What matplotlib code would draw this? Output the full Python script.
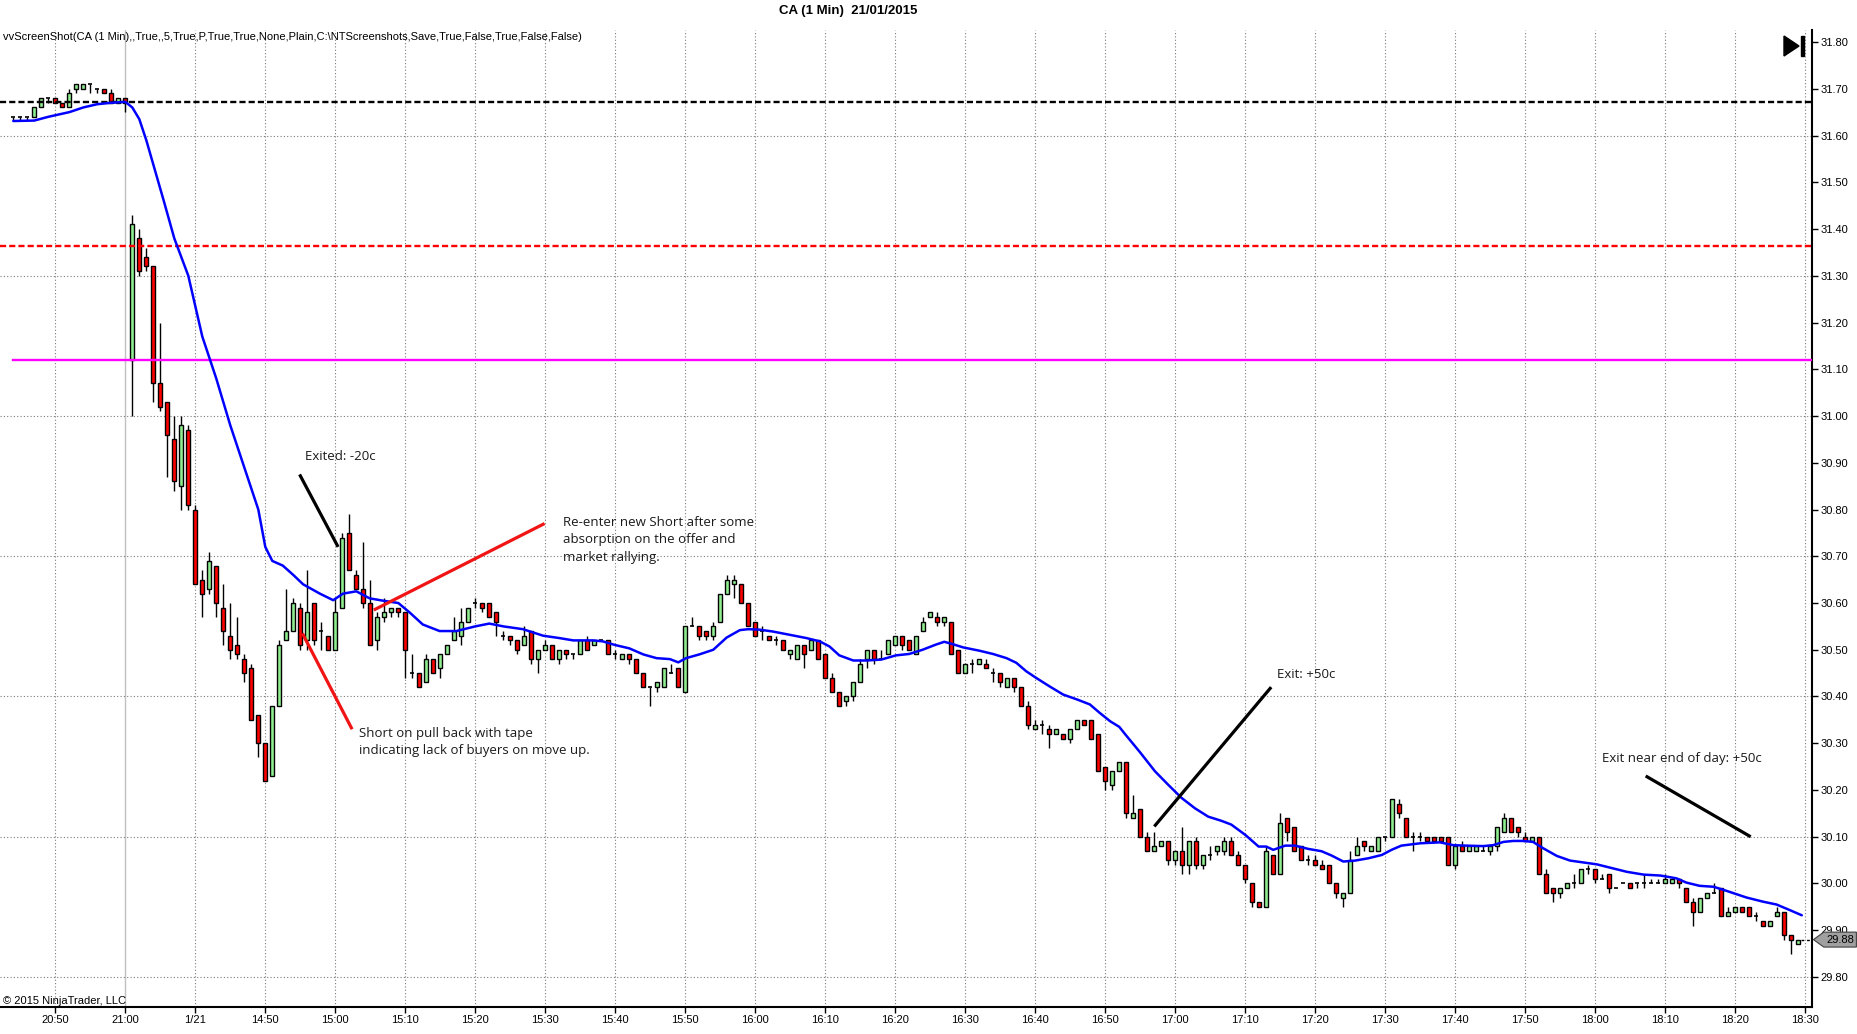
import matplotlib
matplotlib.use('Agg')
import matplotlib.pyplot as plt
from matplotlib.patches import Polygon
import numpy as np

# ---------------- data ----------------
# one-minute bars, index 0 = 20:44 (previous session) ... 16 = 21:00, 17 = 14:31 ... 255 = 18:29
opens = [
    31.64, 31.64, 31.64, 31.64, 31.66, 31.68, 31.68, 31.67, 31.66, 31.70, 31.70, 31.71, 31.70, 31.70, 31.69, 31.67, 31.68,
    31.12, 31.38, 31.34, 31.32, 31.07, 31.03, 30.95, 30.85, 30.97, 30.80, 30.65, 30.63, 30.68, 30.59, 30.53, 30.51, 30.48, 30.46, 30.36, 30.30,
    30.23, 30.38, 30.52, 30.54, 30.59, 30.52, 30.60, 30.54, 30.53, 30.50, 30.59, 30.75, 30.66, 30.63, 30.60, 30.52, 30.57, 30.58, 30.59, 30.58,
    30.45, 30.45, 30.43, 30.48, 30.46, 30.49, 30.52, 30.53, 30.56, 30.60, 30.60, 30.60, 30.58, 30.53, 30.53, 30.52, 30.51, 30.54, 30.48, 30.50,
    30.51, 30.48, 30.50, 30.49, 30.49, 30.52, 30.51, 30.52, 30.52, 30.49, 30.48, 30.49, 30.48, 30.45, 30.42, 30.42, 30.42, 30.45, 30.46, 30.41,
    30.55, 30.55, 30.54, 30.53, 30.56, 30.62, 30.64, 30.64, 30.60, 30.56, 30.54, 30.53, 30.52, 30.52, 30.49, 30.48, 30.51, 30.50, 30.52, 30.49,
    30.44, 30.41, 30.39, 30.40, 30.43, 30.48, 30.50, 30.48, 30.49, 30.51, 30.53, 30.52, 30.49, 30.54, 30.57, 30.57, 30.56, 30.56, 30.50, 30.45,
    30.47, 30.47, 30.47, 30.45, 30.45, 30.42, 30.44, 30.42, 30.38, 30.33, 30.34, 30.33, 30.32, 30.32, 30.31, 30.33, 30.35, 30.35, 30.32, 30.25,
    30.21, 30.24, 30.26, 30.14, 30.16, 30.10, 30.07, 30.08, 30.09, 30.05, 30.07, 30.04, 30.09, 30.04, 30.06, 30.07, 30.07, 30.09, 30.06, 30.04,
    30.00, 29.96, 29.95, 30.06, 30.02, 30.14, 30.12, 30.08, 30.05, 30.05, 30.04, 30.04, 30.00, 29.97, 29.98, 30.06, 30.09, 30.07, 30.07, 30.10,
    30.10, 30.17, 30.14, 30.10, 30.10, 30.10, 30.10, 30.10, 30.10, 30.04, 30.08, 30.07, 30.07, 30.07, 30.07, 30.08, 30.11, 30.14, 30.12, 30.10,
    30.09, 30.10, 30.02, 29.99, 29.98, 29.99, 30.00, 30.00, 30.03, 30.03, 30.01, 30.02, 29.99, 30.00, 30.00, 30.00, 30.00, 30.00, 30.00, 30.00,
    30.00, 30.01, 29.99, 29.96, 29.94, 29.97, 29.98, 29.99, 29.93, 29.94, 29.95, 29.95, 29.93, 29.92, 29.91, 29.93, 29.94, 29.89, 29.87,
]
highs = [
    31.64, 31.64, 31.64, 31.66, 31.68, 31.68, 31.68, 31.67, 31.70, 31.71, 31.71, 31.71, 31.70, 31.70, 31.70, 31.68, 31.68,
    31.43, 31.40, 31.36, 31.32, 31.20, 31.03, 31.00, 31.00, 30.98, 30.81, 30.67, 30.71, 30.68, 30.64, 30.60, 30.57, 30.49, 30.47, 30.36, 30.30,
    30.38, 30.52, 30.63, 30.61, 30.60, 30.67, 30.60, 30.56, 30.53, 30.61, 30.75, 30.79, 30.67, 30.73, 30.65, 30.58, 30.61, 30.59, 30.59, 30.58,
    30.49, 30.45, 30.49, 30.48, 30.49, 30.51, 30.57, 30.59, 30.59, 30.61, 30.60, 30.60, 30.58, 30.54, 30.53, 30.52, 30.55, 30.54, 30.50, 30.52,
    30.51, 30.50, 30.50, 30.49, 30.52, 30.53, 30.52, 30.52, 30.52, 30.50, 30.49, 30.49, 30.48, 30.45, 30.42, 30.43, 30.46, 30.47, 30.46, 30.55,
    30.57, 30.55, 30.54, 30.56, 30.62, 30.66, 30.66, 30.64, 30.60, 30.56, 30.55, 30.53, 30.53, 30.52, 30.50, 30.51, 30.51, 30.52, 30.52, 30.49,
    30.45, 30.41, 30.40, 30.43, 30.48, 30.50, 30.50, 30.50, 30.52, 30.53, 30.53, 30.52, 30.53, 30.57, 30.58, 30.58, 30.57, 30.56, 30.50, 30.47,
    30.48, 30.48, 30.48, 30.46, 30.45, 30.44, 30.44, 30.42, 30.39, 30.35, 30.35, 30.34, 30.33, 30.32, 30.33, 30.35, 30.35, 30.35, 30.32, 30.25,
    30.24, 30.26, 30.26, 30.19, 30.16, 30.11, 30.11, 30.09, 30.09, 30.07, 30.12, 30.09, 30.10, 30.06, 30.08, 30.08, 30.10, 30.10, 30.07, 30.04,
    30.00, 29.96, 30.08, 30.06, 30.15, 30.14, 30.12, 30.08, 30.06, 30.06, 30.05, 30.04, 30.00, 29.98, 30.07, 30.10, 30.09, 30.08, 30.10, 30.10,
    30.18, 30.18, 30.14, 30.11, 30.11, 30.10, 30.10, 30.10, 30.10, 30.08, 30.09, 30.08, 30.08, 30.08, 30.08, 30.12, 30.15, 30.14, 30.12, 30.11,
    30.10, 30.10, 30.03, 29.99, 29.99, 30.00, 30.02, 30.03, 30.04, 30.03, 30.02, 30.02, 29.99, 30.00, 30.00, 30.00, 30.02, 30.01, 30.01, 30.02,
    30.01, 30.01, 29.99, 29.97, 29.97, 29.98, 30.00, 29.99, 29.95, 29.95, 29.95, 29.95, 29.94, 29.92, 29.92, 29.95, 29.94, 29.89, 29.88,
]
lows = [
    31.63, 31.63, 31.63, 31.64, 31.66, 31.67, 31.67, 31.66, 31.66, 31.69, 31.70, 31.69, 31.69, 31.69, 31.67, 31.67, 31.65,
    31.00, 31.30, 31.31, 31.03, 31.01, 30.87, 30.84, 30.80, 30.80, 30.64, 30.57, 30.62, 30.57, 30.51, 30.48, 30.48, 30.43, 30.35, 30.27, 30.22,
    30.23, 30.38, 30.52, 30.54, 30.50, 30.50, 30.51, 30.50, 30.50, 30.50, 30.59, 30.67, 30.63, 30.59, 30.51, 30.50, 30.56, 30.57, 30.57, 30.44,
    30.44, 30.42, 30.43, 30.45, 30.44, 30.49, 30.52, 30.51, 30.56, 30.59, 30.58, 30.57, 30.53, 30.52, 30.51, 30.49, 30.51, 30.47, 30.45, 30.50,
    30.48, 30.47, 30.48, 30.48, 30.49, 30.50, 30.51, 30.52, 30.49, 30.48, 30.48, 30.47, 30.45, 30.42, 30.38, 30.41, 30.42, 30.45, 30.42, 30.41,
    30.55, 30.52, 30.52, 30.52, 30.56, 30.62, 30.61, 30.60, 30.55, 30.53, 30.52, 30.52, 30.51, 30.50, 30.48, 30.48, 30.46, 30.50, 30.48, 30.44,
    30.41, 30.38, 30.38, 30.39, 30.43, 30.46, 30.47, 30.48, 30.49, 30.51, 30.50, 30.50, 30.49, 30.54, 30.57, 30.55, 30.55, 30.49, 30.45, 30.45,
    30.45, 30.47, 30.46, 30.43, 30.42, 30.42, 30.41, 30.38, 30.33, 30.33, 30.32, 30.29, 30.32, 30.31, 30.30, 30.33, 30.34, 30.31, 30.24, 30.20,
    30.20, 30.24, 30.14, 30.14, 30.10, 30.07, 30.07, 30.08, 30.04, 30.04, 30.02, 30.02, 30.03, 30.03, 30.05, 30.06, 30.06, 30.06, 30.04, 30.00,
    29.95, 29.95, 29.95, 30.02, 30.02, 30.09, 30.07, 30.05, 30.04, 30.04, 30.03, 30.00, 29.97, 29.95, 29.98, 30.06, 30.07, 30.07, 30.07, 30.09,
    30.10, 30.14, 30.10, 30.07, 30.09, 30.09, 30.09, 30.09, 30.04, 30.03, 30.07, 30.07, 30.07, 30.07, 30.06, 30.07, 30.11, 30.11, 30.10, 30.09,
    30.09, 30.02, 29.98, 29.96, 29.97, 29.99, 29.99, 30.00, 30.02, 30.00, 30.01, 29.98, 29.99, 30.00, 29.99, 29.99, 29.99, 30.00, 30.00, 30.00,
    30.00, 29.99, 29.96, 29.91, 29.94, 29.97, 29.98, 29.93, 29.93, 29.94, 29.94, 29.93, 29.92, 29.91, 29.91, 29.93, 29.88, 29.85, 29.87,
]
closes = [
    31.64, 31.64, 31.64, 31.66, 31.68, 31.68, 31.67, 31.66, 31.69, 31.71, 31.71, 31.71, 31.70, 31.69, 31.67, 31.68, 31.67,
    31.41, 31.31, 31.32, 31.07, 31.02, 30.96, 30.86, 30.98, 30.81, 30.64, 30.62, 30.69, 30.60, 30.54, 30.50, 30.49, 30.45, 30.35, 30.30, 30.22,
    30.38, 30.51, 30.54, 30.60, 30.51, 30.58, 30.52, 30.54, 30.50, 30.58, 30.74, 30.67, 30.63, 30.60, 30.51, 30.57, 30.58, 30.59, 30.58, 30.50,
    30.45, 30.42, 30.48, 30.45, 30.49, 30.51, 30.54, 30.56, 30.59, 30.60, 30.59, 30.57, 30.56, 30.53, 30.52, 30.50, 30.53, 30.48, 30.50, 30.51,
    30.48, 30.50, 30.49, 30.49, 30.52, 30.50, 30.52, 30.52, 30.49, 30.49, 30.49, 30.48, 30.45, 30.42, 30.42, 30.43, 30.46, 30.45, 30.42, 30.55,
    30.55, 30.53, 30.53, 30.55, 30.62, 30.65, 30.65, 30.60, 30.55, 30.53, 30.54, 30.52, 30.52, 30.50, 30.50, 30.51, 30.49, 30.52, 30.48, 30.44,
    30.41, 30.38, 30.40, 30.43, 30.47, 30.50, 30.48, 30.48, 30.52, 30.53, 30.51, 30.50, 30.53, 30.56, 30.58, 30.56, 30.57, 30.49, 30.45, 30.47,
    30.47, 30.48, 30.46, 30.45, 30.43, 30.44, 30.42, 30.38, 30.34, 30.34, 30.34, 30.32, 30.33, 30.31, 30.33, 30.35, 30.34, 30.31, 30.24, 30.22,
    30.24, 30.26, 30.15, 30.15, 30.10, 30.07, 30.08, 30.09, 30.05, 30.07, 30.04, 30.09, 30.04, 30.06, 30.06, 30.08, 30.09, 30.06, 30.04, 30.01,
    29.96, 29.95, 30.07, 30.02, 30.13, 30.11, 30.07, 30.05, 30.05, 30.04, 30.03, 30.00, 29.98, 29.98, 30.05, 30.08, 30.08, 30.08, 30.10, 30.10,
    30.18, 30.15, 30.10, 30.10, 30.10, 30.09, 30.09, 30.09, 30.04, 30.08, 30.07, 30.08, 30.08, 30.07, 30.08, 30.12, 30.14, 30.11, 30.11, 30.09,
    30.10, 30.02, 29.98, 29.98, 29.99, 30.00, 30.00, 30.03, 30.03, 30.01, 30.01, 29.99, 29.99, 30.00, 29.99, 30.00, 30.00, 30.00, 30.00, 30.01,
    30.01, 30.00, 29.96, 29.94, 29.97, 29.98, 29.98, 29.93, 29.94, 29.95, 29.94, 29.93, 29.93, 29.91, 29.92, 29.94, 29.89, 29.88, 29.88,
]

# blue moving-average line as (bar index, price)
ma_points = [
    (0, 31.631), (3, 31.632), (5, 31.64), (8, 31.65), (10, 31.66), (12, 31.667), (14, 31.67), (16, 31.672),
    (17, 31.66), (18, 31.635), (19, 31.59), (21.5, 31.46), (23, 31.38), (25, 31.30), (27, 31.17), (29, 31.08),
    (31, 30.98), (33, 30.89), (35, 30.80), (36, 30.72), (37, 30.69), (38.5, 30.68), (40, 30.66), (41.4, 30.64),
    (43.8, 30.62), (45.7, 30.606), (47.1, 30.62), (49, 30.625), (50.9, 30.61), (52.8, 30.605), (55, 30.60),
    (56.6, 30.58), (58.5, 30.554), (60.9, 30.54), (63.3, 30.54), (66, 30.55), (68, 30.556), (70, 30.55),
    (72.8, 30.544), (75.7, 30.53), (78, 30.525), (80, 30.52), (82.8, 30.52), (84.2, 30.518), (86, 30.51),
    (88, 30.503), (90, 30.49), (91.9, 30.482), (93.8, 30.48), (95, 30.473), (96.1, 30.482), (98, 30.49),
    (100, 30.50), (101.9, 30.526), (103.8, 30.542), (105, 30.544), (106.6, 30.543), (108.5, 30.539),
    (110.9, 30.532), (113.3, 30.525), (115.2, 30.518), (116.6, 30.507), (118, 30.488), (120, 30.477),
    (121.9, 30.477), (124, 30.479), (126.1, 30.488), (128, 30.491), (129.9, 30.50), (131.8, 30.511),
    (133, 30.517), (134.2, 30.512), (135.7, 30.505), (138, 30.498), (139.95, 30.491), (141.9, 30.482),
    (143.3, 30.472), (144.7, 30.454), (146.1, 30.44), (148, 30.422), (150, 30.404), (151.9, 30.394),
    (153.8, 30.383), (155.2, 30.365), (156.7, 30.347), (158, 30.335), (158.8, 30.32), (161, 30.28),
    (163.1, 30.24), (165, 30.211), (166.9, 30.183), (168.8, 30.161), (170.7, 30.143), (172.6, 30.134),
    (174, 30.126), (176, 30.104), (177.9, 30.079), (179, 30.079), (180, 30.072), (181.7, 30.081),
    (183.1, 30.081), (185, 30.074), (186.9, 30.069), (188.3, 30.06), (190, 30.047), (191.7, 30.049),
    (193.6, 30.054), (195.5, 30.061), (196.9, 30.072), (198.3, 30.081), (201, 30.086), (203.8, 30.088),
    (205.7, 30.082), (207.6, 30.081), (210, 30.08), (211.4, 30.082), (212.9, 30.089), (214.3, 30.091),
    (215.7, 30.091), (217.1, 30.089), (218.6, 30.075), (220.5, 30.059), (222.4, 30.049), (224.3, 30.045),
    (226.2, 30.041), (228.1, 30.034), (230.5, 30.025), (232.9, 30.019), (235.3, 30.017), (237.6, 30.011),
    (239, 30.002), (240.9, 29.995), (242.9, 29.993), (244.8, 29.984), (247.6, 29.97), (250, 29.961),
    (251.9, 29.955), (253.8, 29.943), (255.5, 29.932),
]

# x tick labels (every 10 bars, starting at bar 6)
tick_labels = ['20:50', '21:00', '1/21', '14:50', '15:00', '15:10', '15:20', '15:30', '15:40', '15:50',
               '16:00', '16:10', '16:20', '16:30', '16:40', '16:50', '17:00', '17:10', '17:20', '17:30',
               '17:40', '17:50', '18:00', '18:10', '18:20', '18:30']
tick_first_bar = 6
session_break_label = '21:00'

# horizontal reference levels
prev_close_level = 31.672
red_level = 31.364
open_level = 31.12
last_price = 29.88

# annotations: (text, x, y) and lines ((x0, y0), (x1, y1), colour)
notes = [
    ('Exited: -20c', 41.7, 30.914),
    ('Re-enter new Short after some\nabsorption on the offer and\nmarket rallying.', 78.6, 30.735),
    ('Short on pull back with tape\nindicating lack of buyers on move up.', 49.4, 30.303),
    ('Exit: +50c', 180.5, 30.446),
    ('Exit near end of day: +50c', 226.9, 30.268),
]
note_lines = [
    ((40.9, 30.875), (46.4, 30.72), 'black'),
    ((51.5, 30.585), (75.9, 30.77), '#f01414'),
    ((41.3, 30.535), (48.4, 30.33), '#f01414'),
    ((163.0, 30.122), (179.7, 30.42), 'black'),
    ((233.2, 30.23), (248.2, 30.10), 'black'),
]

title = 'CA (1 Min)  21/01/2015'
header = 'vvScreenShot(CA (1 Min),,True,,5,True,P,True,True,None,Plain,C:\\NTScreenshots,Save,True,False,True,False,False)'
footer = '\u00a9 2015 NinjaTrader, LLC'

# ---------------- figure ----------------
W, H = 1858, 1034
fig = plt.figure(figsize=(W / 100, H / 100), dpi=100)
fig.patch.set_facecolor('white')
ax_left, ax_right, ax_top, ax_bottom = 0, 1812, 30, 1007
ax = fig.add_axes([ax_left / W, 1 - ax_bottom / H, (ax_right - ax_left) / W, (ax_bottom - ax_top) / H])

o = np.array(opens); h = np.array(highs); l = np.array(lows); c = np.array(closes)
n = len(o)
x = np.arange(n)

ax.set_xlim(-1.9, 256.96)
ax.set_ylim(29.7358, 31.8257)

# grid
tick_pos = [tick_first_bar + 10 * k for k in range(len(tick_labels))]
for p, lab in zip(tick_pos, tick_labels):
    if lab == session_break_label:
        ax.axvline(p, color='#c0c0c0', lw=1.0, zorder=1)
    else:
        ax.axvline(p, color='#7a7a7a', lw=0.8, ls=(0, (1, 2)), zorder=1)
for gy in np.arange(29.80, 31.70, 0.30):
    ax.axhline(gy, color='#7a7a7a', lw=0.8, ls=(0, (1, 2)), zorder=1)

# candles
bw = 0.62
up = c > o
dn = c < o
eq = c == o
ax.vlines(x, l, h, color='black', lw=1.0, zorder=3)
ax.bar(x[up], (c - o)[up], bottom=o[up], width=bw, color='#90ee90', edgecolor='black', linewidth=1.0, zorder=4)
ax.bar(x[dn], (o - c)[dn], bottom=c[dn], width=bw, color='#ff0000', edgecolor='black', linewidth=1.0, zorder=4)
ax.hlines(o[eq], x[eq] - bw / 2, x[eq] + bw / 2, color='black', lw=1.2, zorder=4)

# reference levels
ax.axhline(prev_close_level, color='black', lw=1.7, ls=(0, (2.6, 1.3)), zorder=5)
ax.axhline(red_level, color='#ff0000', lw=1.7, ls=(0, (2.6, 1.3)), zorder=5)
ax.plot([0, 256.9], [open_level, open_level], color='#ff00ff', lw=1.7, zorder=5)

# moving average
mx = [p[0] for p in ma_points]
my = [p[1] for p in ma_points]
ax.plot(mx, my, color='#0000ff', lw=1.8, zorder=6, solid_capstyle='round')

# last price marker dashes
ax.plot([255.4, 256.9], [last_price, last_price], color='black', lw=1.0, ls=(0, (2, 2)), zorder=6)

# annotations
for (x0, y0), (x1, y1), col in note_lines:
    ax.plot([x0, x1], [y0, y1], color=col, lw=2.3, zorder=7, solid_capstyle='butt')
for txt, tx, ty in notes:
    ax.text(tx, ty, txt, ha='left', va='center', fontsize=9.5, family=['Open Sans', 'DejaVu Sans'],
            color='#1a1a1a', linespacing=1.45, zorder=8)

# axes styling
for s in ['left', 'top']:
    ax.spines[s].set_visible(False)
for s in ['bottom', 'right']:
    ax.spines[s].set_color('black')
    ax.spines[s].set_linewidth(1.5)
ax.yaxis.tick_right()
yt = np.round(np.arange(29.80, 31.801, 0.10), 2)
ax.set_yticks(yt)
ax.set_yticklabels(['%.2f' % v for v in yt])
ax.set_xticks(tick_pos)
ax.set_xticklabels(tick_labels)
ax.tick_params(axis='both', direction='out', length=4, width=1, colors='black', labelsize=8, pad=2)
ax.tick_params(axis='y', pad=2)
for lab in ax.get_xticklabels() + ax.get_yticklabels():
    lab.set_family(['Liberation Sans', 'DejaVu Sans'])

# price marker on the axis
yax = ax.get_yaxis_transform()
marker = Polygon([(1.0008, last_price), (1.0065, last_price + 0.016), (1.0245, last_price + 0.016),
                  (1.0245, last_price - 0.016), (1.0065, last_price - 0.016)], closed=True,
                 transform=yax, facecolor='#a0a0a0', edgecolor='#404040', lw=0.8, clip_on=False, zorder=10)
ax.add_patch(marker)
ax.text(1.0155, last_price, '%.2f' % last_price, transform=yax, ha='center', va='center', fontsize=8,
        family=['Liberation Sans', 'DejaVu Sans'], color='black', clip_on=False, zorder=11)

# texts on the figure
fig.text(848 / W, 1 - 11 / H, title, ha='center', va='center', fontsize=9.5, fontweight='bold',
         family=['Liberation Sans', 'DejaVu Sans'])
fig.text(3 / W, 1 - 37 / H, header, ha='left', va='center', fontsize=8.0,
         family=['Liberation Sans', 'DejaVu Sans'])
fig.text(3 / W, 1 - 1006 / H, footer, ha='left', va='bottom', fontsize=8.0,
         family=['Liberation Sans', 'DejaVu Sans'])

# "go to end" icon top right
tri = Polygon([(1784 / W, 1 - 36 / H), (1784 / W, 1 - 56 / H), (1799 / W, 1 - 46 / H)], closed=True,
              transform=fig.transFigure, facecolor='black', edgecolor='black', zorder=12)
fig.patches.append(tri)
bar = Polygon([(1801 / W, 1 - 36 / H), (1804 / W, 1 - 36 / H), (1804 / W, 1 - 56 / H), (1801 / W, 1 - 56 / H)],
              closed=True, transform=fig.transFigure, facecolor='black', edgecolor='black', zorder=12)
fig.patches.append(bar)

fig.savefig('out.png', dpi=100, facecolor='white')
